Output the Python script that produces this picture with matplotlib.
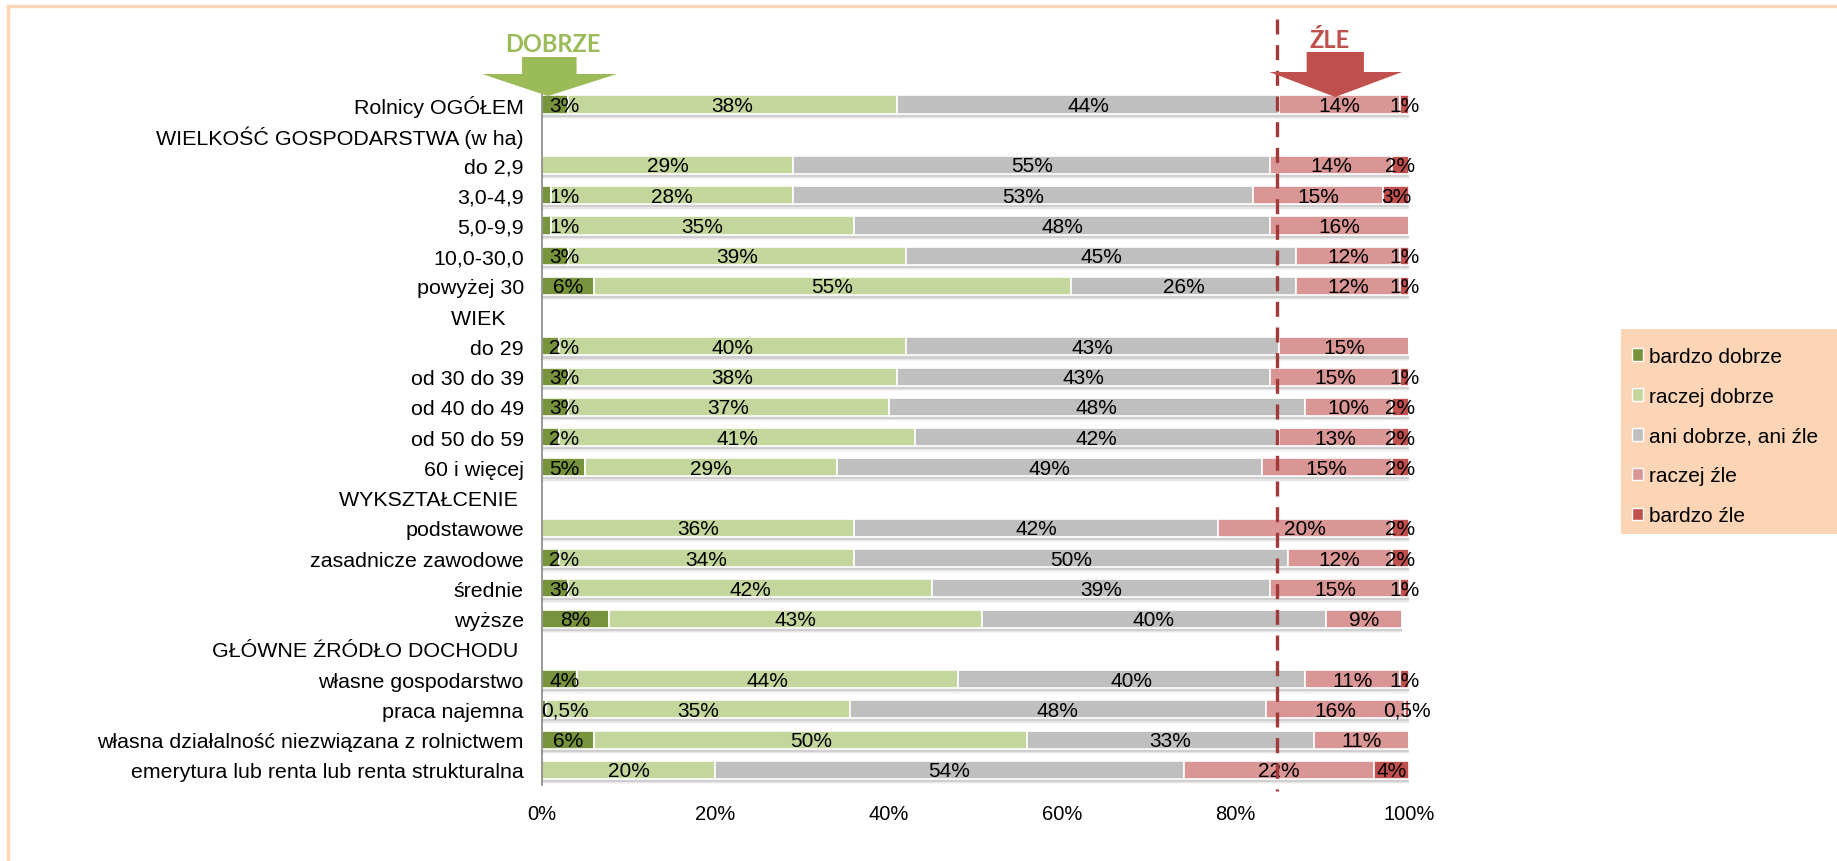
import matplotlib
matplotlib.use("Agg")
import matplotlib.pyplot as plt
import numpy as np
from matplotlib.patches import Patch, Polygon, Rectangle
from matplotlib.lines import Line2D
from matplotlib.transforms import blended_transform_factory

plt.rcParams['font.family'] = ['Liberation Sans', 'DejaVu Sans']

nan = np.nan
categories = ["Rolnicy OGÓŁEM", "WIELKOŚĆ GOSPODARSTWA (w ha)", "do 2,9", "3,0-4,9",
              "5,0-9,9", "10,0-30,0", "powyżej 30", "WIEK   ", "do 29", "od 30 do 39",
              "od 40 do 49", "od 50 do 59", "60 i więcej", "WYKSZTAŁCENIE ", "podstawowe",
              "zasadnicze zawodowe", "średnie", "wyższe", "GŁÓWNE ŹRÓDŁO DOCHODU ",
              "własne gospodarstwo", "praca najemna",
              "własna działalność niezwiązana z rolnictwem",
              "emerytura lub renta lub renta strukturalna"]

bardzo_dobrze = [3, nan, 0, 1, 1, 3, 6, nan, 2, 3, 3, 2, 5, nan, 0, 2, 3, 7.7, nan, 4, 0.5, 6, 0]
raczej_dobrze = [38, nan, 29, 28, 35, 39, 55, nan, 40, 38, 37, 41, 29, nan, 36, 34, 42, 43, nan, 44, 35, 50, 20]
ani_ani = [44, nan, 55, 53, 48, 45, 26, nan, 43, 43, 48, 42, 49, nan, 42, 50, 39, 39.7, nan, 40, 48, 33, 54]
raczej_zle = [14, nan, 14, 15, 16, 12, 12, nan, 15, 15, 10, 13, 15, nan, 20, 12, 15, 8.8, nan, 11, 16, 11, 22]
bardzo_zle = [1, nan, 2, 3, 0, 1, 1, nan, 0, 1, 2, 2, 2, nan, 2, 2, 1, 0, nan, 1, 0.5, 0, 4]

series_names = ["bardzo dobrze", "raczej dobrze", "ani dobrze, ani źle", "raczej źle", "bardzo źle"]
colors = ["#77933C", "#C3D69B", "#BFBFBF", "#D99694", "#C0504D"]
threshold = 84.8  # linia podziału DOBRZE / ŹLE

xticks = [0, 20, 40, 60, 80, 100]


def fmt(v):
    if v < 1:
        return ("%.1f" % v).replace(".", ",") + "%"
    return "%d%%" % round(v)


fig = plt.figure(figsize=(18.37, 8.62), dpi=100)
ax = fig.add_axes([0.295, 0.0882, 0.472, 0.807])

data = np.array([bardzo_dobrze, raczej_dobrze, ani_ani, raczej_zle, bardzo_zle])
y = np.arange(len(categories))
valid = ~np.isnan(data[0])
vals = np.nan_to_num(data)
totals = vals.sum(axis=0)

# cień pod paskami
for off, a in [(0.10, 0.22), (0.14, 0.13), (0.18, 0.07)]:
    ax.barh(y[valid] + off, totals[valid], height=0.6, color="#808080", alpha=a,
            linewidth=0, zorder=1)

left = np.zeros(len(categories))
for i, (name, col) in enumerate(zip(series_names, colors)):
    ax.barh(y[valid], vals[i][valid], left=left[valid], height=0.6, color=col,
            edgecolor="white", linewidth=1.2, label=name, zorder=2)
    for j in np.where(valid)[0]:
        v = vals[i][j]
        if v <= 0:
            continue
        cx = left[j] + v / 2
        if i == 0:
            cx = max(cx, 2.6)
        ax.text(cx, y[j] + 0.03, fmt(v), ha="center", va="center", fontsize=15,
                color="black", zorder=4)
    left += vals[i]

ax.set_ylim(len(categories) - 0.5, -0.5)
ax.set_xlim(0, 100)
ax.set_yticks(y)
ax.set_yticklabels(categories, fontsize=15.4)
ax.set_xticks(xticks)
ax.set_xticklabels(["%d%%" % t for t in xticks], fontsize=14.5)
ax.tick_params(axis="y", length=0, pad=13)
ax.tick_params(axis="x", length=0, pad=14)
for s in ["top", "right", "bottom"]:
    ax.spines[s].set_visible(False)
ax.spines["left"].set_color("#868686")
ax.spines["left"].set_linewidth(1.2)

# linia przerywana
bt = blended_transform_factory(ax.transData, fig.transFigure)
ax.add_line(Line2D([threshold, threshold], [1 - 20 / 862, 1 - 792 / 862], transform=bt,
                   color="#A13A38", linewidth=2.4, dashes=(4.5, 3.2), clip_on=False, zorder=5))


def arrow(cx, head_l, head_r, shaft_l, shaft_r, y_top, y_head, y_tip, color):
    pts = [(shaft_l, y_top), (shaft_r, y_top), (shaft_r, y_head), (head_r, y_head),
           (cx, y_tip), (head_l, y_head), (shaft_l, y_head)]
    pts = [(px, 1 - py / 862) for px, py in pts]
    ax.add_patch(Polygon(pts, closed=True, transform=bt, facecolor=color,
                         edgecolor="none", clip_on=False, zorder=6))


arrow(0.7, -6.9, 8.65, -2.3, 4.0, 58, 75, 97, "#9BBB59")
arrow(91.5, 83.9, 99.2, 88.2, 94.8, 53, 73, 98, "#C0504D")
ax.text(1.3, 1 - 45 / 862, "DOBRZE", transform=bt, ha="center", va="center",
        fontsize=17, fontweight="bold", color="#9BBB59", family=["Lato", "DejaVu Sans"])
ax.text(90.8, 1 - 41 / 862, "ŹLE", transform=bt, ha="center", va="center",
        fontsize=17, fontweight="bold", color="#C0504D", family=["Lato", "DejaVu Sans"])

# legenda
fig.add_artist(Rectangle((1621 / 1837, 1 - 535 / 862), 216 / 1837, 205 / 862,
                         transform=fig.transFigure, facecolor="#FBD5B5", edgecolor="none"))
handles = [Patch(facecolor=c, edgecolor="white", linewidth=1, label=n)
           for n, c in zip(series_names, colors)]
leg = fig.legend(handles=handles, loc="upper left", bbox_to_anchor=(1632 / 1837, 1 - 348 / 862),
                 fontsize=15, frameon=False, handlelength=0.55, handleheight=0.55,
                 handletextpad=0.25, labelspacing=1.0, borderpad=0, borderaxespad=0)

# ramka
fig.add_artist(Line2D([8 / 1837, 1], [1 - 7 / 862, 1 - 7 / 862], color="#FBD5B5", linewidth=2.5))
fig.add_artist(Line2D([8 / 1837, 8 / 1837], [0, 1 - 7 / 862], color="#FBD5B5", linewidth=2.5))

fig.savefig("out.png", dpi=100)
